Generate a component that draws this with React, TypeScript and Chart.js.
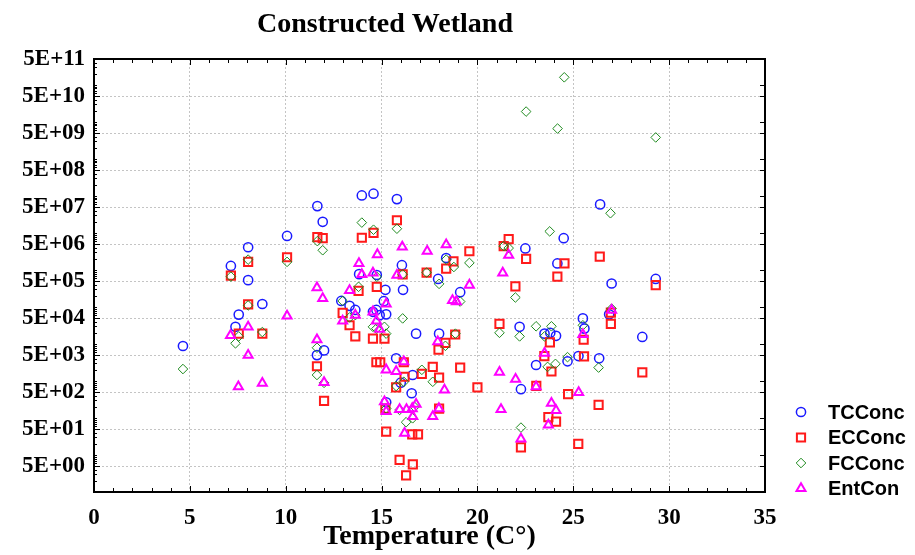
import { useEffect, useRef } from "react";
import { Chart, registerables } from "chart.js";
import { drawPoint } from "chart.js/helpers";
Chart.register(...registerables);

const chartTitle = "Constructed Wetland";
const xAxisTitle = "Temperature (C°)";

const xMin = 0;
const xMax = 35;
const xStep = 5;

const yMin = 1;
const yMax = 5e11;
const yTickValues = [5, 5e1, 5e2, 5e3, 5e4, 5e5, 5e6, 5e7, 5e8, 5e9, 5e10, 5e11];
const yTickLabels = [
  "5E+00", "5E+01", "5E+02", "5E+03", "5E+04", "5E+05",
  "5E+06", "5E+07", "5E+08", "5E+09", "5E+10", "5E+11",
];

// [temperature, concentration]
const tcPoints: [number, number][] = [
  [4.64, 8800], [7.14, 1.28e6], [7.38, 2.9e4], [7.55, 6.2e4], [8.04, 4.1e6], [8.04, 5.3e5],
  [8.78, 1.2e5], [10.07, 8.3e6], [11.65, 5.3e7], [11.93, 2.0e7], [11.63, 5000], [12.0, 6700],
  [12.9, 1.45e5], [13.33, 1.07e5], [13.63, 8.3e4], [13.83, 7.7e5], [13.97, 1.03e8], [14.55, 7.4e4],
  [14.58, 1.15e8], [14.75, 7.3e5], [14.73, 8.3e4], [14.9, 6e4], [15.12, 1.43e5], [15.2, 2.9e5],
  [15.24, 6.3e4], [15.24, 265], [15.76, 4100], [15.8, 8.2e7], [16.0, 900], [16.06, 1.34e6],
  [16.12, 2.9e5], [16.57, 465], [16.62, 1450], [16.8, 1.9e4], [17.95, 5.7e5], [18.0, 1.9e4],
  [18.37, 2.1e6], [19.1, 2.5e5], [22.2, 2.9e4], [22.27, 600], [22.5, 3.8e6], [23.06, 2700],
  [23.5, 1.9e4], [23.8, 2e4], [24.1, 1.66e4], [24.17, 1.5e6], [24.5, 7.2e6], [24.7, 3400],
  [25.27, 4700], [25.5, 4.9e4], [25.58, 2.6e4], [26.35, 4100], [26.4, 5.9e7], [27.0, 4.3e5],
  [26.87, 6.3e4], [28.6, 1.55e4], [29.3, 5.7e5],
];

const ecPoints: [number, number][] = [
  [7.14, 7e5], [7.55, 1.9e4], [8.04, 1.65e6], [8.04, 1.17e5], [8.78, 1.9e4], [10.07, 2.2e6],
  [11.63, 2500], [11.65, 7.7e6], [11.93, 7.2e6], [12.0, 290], [12.97, 6.9e4], [13.33, 3.2e4],
  [13.63, 1.6e4], [13.8, 2.7e5], [13.97, 7.4e6], [14.55, 1.4e4], [14.58, 1.0e7], [14.73, 3200],
  [14.75, 3.5e5], [14.93, 3200], [15.15, 1.4e4], [15.2, 180], [15.24, 43], [15.76, 670],
  [15.8, 2.2e7], [15.94, 7.4], [16.1, 7.6e5], [16.16, 3200], [16.2, 1300], [16.28, 2.8],
  [16.6, 36], [16.63, 5.6], [16.9, 36], [17.1, 1550], [17.35, 8.5e5], [17.67, 2400],
  [17.97, 7000], [18.0, 1230], [18.0, 180], [18.33, 1.07e4], [18.37, 1.08e6], [18.75, 1.7e6],
  [18.84, 1.8e4], [19.1, 2300], [19.58, 3.2e6], [20.0, 670], [21.15, 3.5e4], [21.37, 4.4e6],
  [21.63, 6.8e6], [21.98, 3.6e5], [22.27, 16], [22.54, 2e6], [23.07, 740], [23.49, 4700],
  [23.7, 105], [23.78, 1.1e4], [23.86, 1800], [24.1, 80], [24.17, 6.6e5], [24.54, 1.5e6],
  [24.73, 440], [25.26, 20], [25.54, 1.3e4], [25.56, 4600], [26.32, 225], [26.38, 2.3e6],
  [26.96, 7e4], [26.96, 3.5e4], [28.6, 1700], [29.3, 3.9e5],
];

const fcPoints: [number, number][] = [
  [4.64, 2100], [7.14, 6.6e5], [7.38, 1.04e4], [7.55, 1.6e4], [8.04, 1.9e6], [8.04, 1.1e5],
  [8.78, 2.1e4], [10.07, 1.65e6], [11.63, 7900], [11.63, 1450], [11.65, 6e6], [11.93, 3.4e6],
  [12.0, 890], [12.97, 1.45e5], [13.33, 5.2e4], [13.63, 6e4], [13.8, 3.5e5], [13.97, 1.9e7],
  [14.55, 2.9e4], [14.58, 1.22e7], [14.73, 2.6e4], [14.75, 6.5e5], [15.15, 2.9e4], [15.24, 1.9e4],
  [15.24, 180], [15.76, 730], [15.8, 1.3e7], [15.94, 165], [16.1, 4.9e4], [16.1, 7.6e5],
  [16.16, 950], [16.28, 77], [16.62, 98], [16.72, 200], [17.1, 2000], [17.35, 8.5e5],
  [17.67, 950], [18.0, 4.2e5], [18.33, 8900], [18.37, 1.9e6], [18.77, 1.2e6], [18.85, 1.9e4],
  [19.1, 1.4e5], [19.58, 1.55e6], [21.15, 2e4], [21.37, 4.4e6], [21.63, 3.9e6], [21.98, 1.8e5],
  [22.2, 1.6e4], [22.27, 55], [22.54, 1.9e10], [23.06, 3e4], [23.5, 1.6e4], [23.66, 2400],
  [23.77, 1.1e7], [23.86, 3e4], [24.07, 2900], [24.18, 6.6e9], [24.53, 1.6e11], [24.7, 4400],
  [25.5, 3.2e4], [26.32, 2300], [26.94, 3.4e7], [27.0, 9e4], [29.3, 3.8e9],
];

const entPoints: [number, number][] = [
  [7.12, 1.7e4], [7.53, 700], [8.04, 2.9e4], [8.04, 5000], [8.78, 870], [10.07, 5.7e4],
  [11.63, 3.3e5], [11.63, 1.3e4], [11.93, 1.7e5], [12.0, 910], [12.97, 4.2e4], [13.33, 2.8e5],
  [13.63, 6e4], [13.82, 1.5e6], [13.97, 7.6e5], [14.55, 8.3e5], [14.55, 7.4e4], [14.73, 4.2e4],
  [14.78, 2.6e6], [14.9, 2.5e4], [15.15, 275], [15.24, 1.2e5], [15.24, 2000], [15.24, 150],
  [15.76, 1800], [15.8, 7.2e5], [15.94, 170], [16.08, 4.2e6], [16.16, 3300], [16.2, 39],
  [16.3, 170], [16.6, 180], [16.63, 110], [16.8, 235], [17.38, 3.2e6], [17.67, 110],
  [17.93, 1.15e4], [17.99, 180], [18.28, 570], [18.37, 4.8e6], [18.7, 1.5e5], [18.9, 1.4e5],
  [19.58, 3.9e5], [21.15, 1730], [21.23, 170], [21.32, 8.3e5], [21.63, 2.5e6], [21.99, 1120],
  [22.27, 27], [23.06, 700], [23.5, 5600], [23.7, 65], [23.86, 250], [24.1, 160],
  [25.28, 490], [25.5, 1.8e4], [27.0, 8.2e4],
];

const seriesNames = ["TCConc", "ECConc", "FCConc", "EntCon"];
const seriesPoints = [tcPoints, ecPoints, fcPoints, entPoints];
const seriesColors = ["#1a1aff", "#ff1a1a", "#1e8a1e", "#ff00ff"];
const seriesStyles = ["circle", "rect", "rectRot", "triangle"] as const;
const seriesRadius = [4.6, 5.8, 4.8, 5.2];
const seriesBorder = [1.5, 2, 1, 2];

const serif = "'Liberation Serif', 'Times New Roman', serif";
const sans = "'Liberation Sans', Arial, sans-serif";

const framePlugin = {
  id: "frame",
  beforeDatasetsDraw(chart: Chart) {
    const { ctx, chartArea: a } = chart;
    const xs = chart.scales.x;
    const ys = chart.scales.y;
    ctx.save();
    ctx.strokeStyle = "#000";
    ctx.lineWidth = 1;
    ctx.beginPath();
    for (let t = xMin; t <= xMax; t++) {
      const px = Math.round(xs.getPixelForValue(t)) + 0.5;
      const len = t % xStep === 0 ? 6 : 4;
      ctx.moveTo(px, a.top);
      ctx.lineTo(px, a.top + len);
      ctx.moveTo(px, a.bottom);
      ctx.lineTo(px, a.bottom - len);
    }
    for (let e = 0; e <= 11; e++) {
      for (let k = 1; k <= 9; k++) {
        const v = k * Math.pow(10, e);
        if (v < yMin || v > yMax) continue;
        const py = Math.round(ys.getPixelForValue(v)) + 0.5;
        const len = k === 5 ? 6 : 3;
        ctx.moveTo(a.left, py);
        ctx.lineTo(a.left + len, py);
        if (k === 5 || k === 1) {
          ctx.moveTo(a.right, py);
          ctx.lineTo(a.right - 5, py);
        }
      }
    }
    ctx.stroke();
    ctx.lineWidth = 2;
    ctx.strokeRect(a.left, a.top, a.right - a.left, a.bottom - a.top);
    ctx.restore();
  },
};

const titleLegendPlugin = {
  id: "titleLegend",
  afterDraw(chart: Chart) {
    const { ctx } = chart;
    ctx.save();
    ctx.fillStyle = "#000";
    ctx.font = `bold 28px ${serif}`;
    ctx.textAlign = "center";
    ctx.textBaseline = "alphabetic";
    ctx.fillText(chartTitle, 385, 32);

    ctx.font = `bold 20px ${sans}`;
    ctx.textAlign = "left";
    ctx.textBaseline = "middle";
    seriesNames.forEach((name, i) => {
      const y = 412 + i * 25.5;
      ctx.strokeStyle = seriesColors[i];
      ctx.fillStyle = "rgba(0,0,0,0)";
      ctx.lineWidth = seriesBorder[i];
      drawPoint(ctx, {
        pointStyle: seriesStyles[i],
        radius: seriesRadius[i],
        borderWidth: seriesBorder[i],
        rotation: 0,
      }, 801, y);
      ctx.fillStyle = "#000";
      ctx.fillText(name, 828, y + 1);
    });
    ctx.restore();
  },
};

const App = () => {
  const canvasRef = useRef<HTMLCanvasElement>(null);

  useEffect(() => {
    const chart = new Chart(canvasRef.current!, {
      type: "scatter",
      data: {
        datasets: seriesNames.map((name, i) => ({
          label: name,
          data: seriesPoints[i].map(([x, y]) => ({ x, y })),
          pointStyle: seriesStyles[i],
          pointRadius: seriesRadius[i],
          pointBorderWidth: seriesBorder[i],
          borderColor: seriesColors[i],
          backgroundColor: "rgba(0,0,0,0)",
          showLine: false,
          order: seriesNames.length - i,
        })),
      },
      options: {
        animation: false,
        responsive: true,
        maintainAspectRatio: false,
        layout: { padding: { top: 59, right: 150, left: 0, bottom: 0 } },
        plugins: {
          legend: { display: false },
          title: { display: false },
          tooltip: { enabled: false },
        },
        scales: {
          x: {
            type: "linear",
            min: xMin,
            max: xMax,
            afterFit: (s) => {
              s.height = 63;
            },
            ticks: {
              stepSize: xStep,
              color: "#000",
              padding: 12,
              font: { family: serif, size: 23, weight: "bold" },
            },
            grid: { color: "#c4c4c4", drawTicks: false },
            border: { display: false, dash: [2, 2] },
            title: {
              display: true,
              text: xAxisTitle,
              color: "#000",
              font: { family: serif, size: 28, weight: "bold" },
              padding: { top: 0, bottom: 1 },
            },
          },
          y: {
            type: "logarithmic",
            min: yMin,
            max: yMax,
            afterFit: (s) => {
              s.width = 94;
            },
            afterBuildTicks: (s) => {
              s.ticks = yTickValues.map((v) => ({ value: v }));
            },
            ticks: {
              autoSkip: false,
              color: "#000",
              padding: 9,
              font: { family: serif, size: 23, weight: "bold" },
              callback: (_v, i) => yTickLabels[i],
            },
            grid: { color: "#c4c4c4", drawTicks: false },
            border: { display: false, dash: [2, 2] },
          },
        },
      },
      plugins: [framePlugin, titleLegendPlugin],
    });
    return () => chart.destroy();
  }, []);

  return (
    <div style={{ position: "absolute", left: 0, top: 0, width: 915, height: 555, background: "#fff" }}>
      <canvas ref={canvasRef} />
    </div>
  );
};

export default App;
